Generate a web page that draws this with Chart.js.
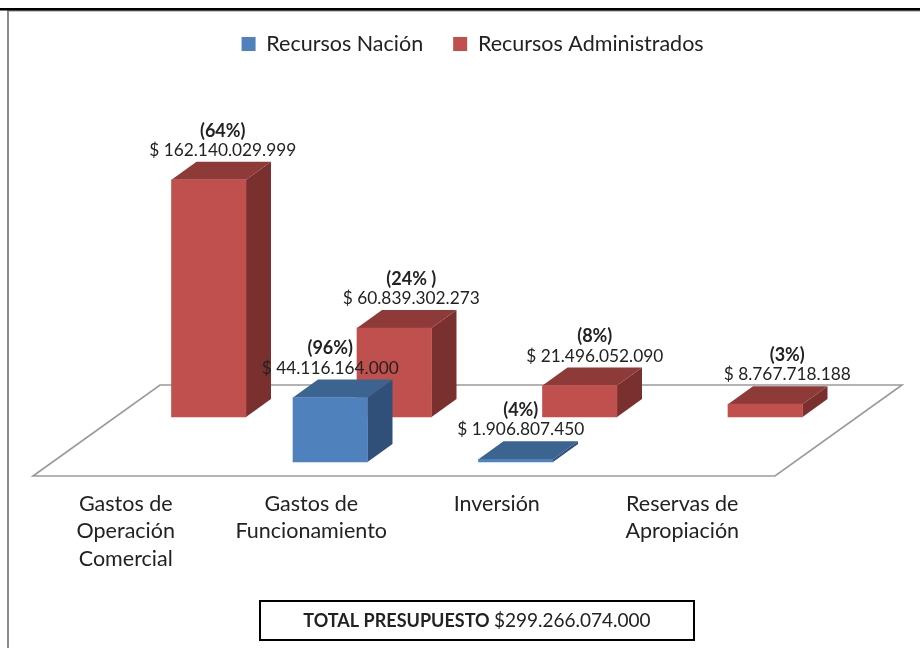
<!DOCTYPE html>
<html><head><meta charset="utf-8">
<style>html,body{margin:0;padding:0;background:#fff}canvas{display:block}</style>
<script src="https://cdn.jsdelivr.net/npm/chart.js@4"></script>
</head><body>
<canvas id="c" width="920" height="648"></canvas>
<script>
const categories = [["Gastos de","Operación","Comercial"],["Gastos de","Funcionamiento"],"Inversión",["Reservas de","Apropiación"]];
const recursosNacion = [null,44116164000,1906807450,null];
const recursosAdministrados = [162140029999,60839302273,21496052090,8767718188];
const porcentajesNacion = [null,"(96%)","(4%)",null];
const porcentajesAdministrados = ["(64%)","(24% )","(8%)","(3%)"];
const totalEtiqueta = "TOTAL PRESUPUESTO";
const totalValor = "$299.266.074.000";

const FONT = "Lato, Carlito, sans-serif";
const TEXT = "#222222";
// oblique projection
const rowShift = [{dx:19,dy:-14},{dx:83,dy:-59}];
const face = [{top:"#3C6491",side:"#30507A"},{top:"#8E3A38",side:"#7A302E"}];
const labelNudge = [[0,0,5,0],[14,17,15,22]];
const DEPTH = {dx:25,dy:-18};
const money = v => "$ " + String(v).replace(/\B(?=(\d{3})+(?!\d))/g,".");

const plugin3d = {
  id:"plugin3d",
  beforeDraw(chart){
    const c=chart.ctx; c.save();
    c.fillStyle="#fff"; c.fillRect(0,0,920,648);
    c.fillStyle="#8c8c8c"; c.fillRect(7,10,913,1.5); c.fillRect(7,10,2,638);
    c.fillStyle="#000"; c.fillRect(0,8,920,2.5);
    c.restore();
  },
  afterDatasetsUpdate(chart){
    chart.data.datasets.forEach((d,i)=>{
      chart.getDatasetMeta(i).data.forEach(el=>{
        el.x+=rowShift[i].dx; el.y+=rowShift[i].dy; el.base+=rowShift[i].dy;
      });
    });
  },
  beforeDatasetsDraw(chart){
    const {left:l,right:r,bottom:b}=chart.chartArea, c=chart.ctx;
    const fx=127,fy=-91;
    c.save(); c.strokeStyle="#9a9a9a"; c.lineWidth=1.6; c.lineJoin="miter";
    c.beginPath(); c.moveTo(l,b); c.lineTo(l+fx,b+fy); c.lineTo(r+fx,b+fy); c.lineTo(r,b); c.closePath(); c.stroke();
    c.restore();
  },
  beforeDatasetDraw(chart,args){
    const i=args.index, c=chart.ctx, d=chart.data.datasets[i];
    c.save();
    chart.getDatasetMeta(i).data.forEach((el,k)=>{
      if(d.data[k]==null) return;
      const L=el.x-el.width/2,R=el.x+el.width/2,T=el.y,B=el.base,{dx,dy}=DEPTH;
      c.fillStyle=face[i].side;
      c.beginPath(); c.moveTo(R,T); c.lineTo(R+dx,T+dy); c.lineTo(R+dx,B+dy); c.lineTo(R,B); c.closePath(); c.fill();
      c.fillStyle=face[i].top;
      c.beginPath(); c.moveTo(L,T); c.lineTo(L+dx,T+dy); c.lineTo(R+dx,T+dy); c.lineTo(R,T); c.closePath(); c.fill();
    });
    c.restore();
  },
  afterDatasetsDraw(chart){
    const c=chart.ctx, pct=[porcentajesNacion,porcentajesAdministrados];
    c.save(); c.textAlign="center"; c.textBaseline="middle"; c.fillStyle=TEXT;
    chart.data.datasets.forEach((d,i)=>{
      chart.getDatasetMeta(i).data.forEach((el,k)=>{
        if(d.data[k]==null) return;
        const x=el.x+labelNudge[i][k];
        c.font="bold 18px "+FONT; c.fillText(pct[i][k],x,el.y-49);
        c.font="17.3px "+FONT; c.fillText(money(d.data[k]),x,el.y-29.5);
      });
    });
    c.restore();
  },
  afterDraw(chart){
    const c=chart.ctx; c.save();
    c.strokeStyle="#000"; c.lineWidth=2; c.strokeRect(260,601,434,39);
    c.textBaseline="middle"; c.fillStyle=TEXT; c.textAlign="left";
    const fb="bold 18px "+FONT, f2="19px "+FONT;
    c.font=fb; const w1=c.measureText(totalEtiqueta+" ").width;
    c.font=f2; const w2=c.measureText(totalValor).width;
    const x=477-(w1+w2)/2;
    c.font=fb; c.fillText(totalEtiqueta,x,621);
    c.font=f2; c.fillText(totalValor,x+w1,621);
    c.restore();
  }
};

new Chart(document.getElementById("c"),{
  type:"bar",
  data:{labels:categories,datasets:[
    {label:"Recursos Nación",data:recursosNacion,backgroundColor:"#4F81BD",grouped:false,barThickness:74.5,clip:false},
    {label:"Recursos Administrados",data:recursosAdministrados,backgroundColor:"#C0504D",grouped:false,barThickness:74.5,clip:false}
  ]},
  options:{
    responsive:false,animation:false,
    layout:{padding:{left:33,right:145,top:0,bottom:0}},
    plugins:{
      tooltip:{enabled:false},
      legend:{position:"top",labels:{font:{family:FONT,size:21.5},color:TEXT,boxWidth:14,boxHeight:14,padding:30}}
    },
    scales:{
      x:{grid:{display:false},border:{display:false},
         ticks:{color:TEXT,font:{family:FONT,size:21.5,lineHeight:1.28},maxRotation:0,minRotation:0,autoSkip:false,padding:6},
         afterFit(s){s.height=172;}},
      y:{display:false,min:0,max:283400000000}
    }
  },
  plugins:[plugin3d,{id:"legendCentre",afterLayout(chart){chart.legend.left=25.2;chart.legend.right=920;chart.legend.top=3.25;}}]
});
</script>
</body></html>
